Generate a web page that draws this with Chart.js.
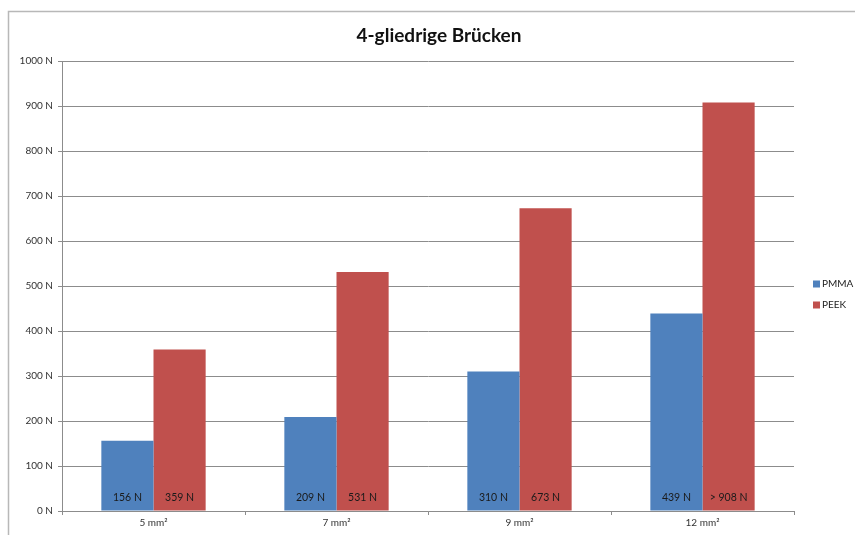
<!DOCTYPE html>
<html>
<head>
<meta charset="utf-8">
<script src="https://cdn.jsdelivr.net/npm/chart.js@4.4.1/dist/chart.umd.min.js"></script>
<style>
  html, body { margin: 0; padding: 0; background: #fff; }
  #wrap { width: 855px; height: 535px; position: relative; }
</style>
</head>
<body>
<div id="wrap"><canvas id="c" width="855" height="535"></canvas></div>
<script>
// Bruchlast je Verbinderquerschnitt
const titleText = '4-gliedrige Brücken';
const categories = ['5 mm²', '7 mm²', '9 mm²', '12 mm²'];
const pmmaValues = [156, 209, 310, 439];
const peekValues = [359, 531, 673, 908];
const peekPrefix = ['', '', '', '> '];
const seriesNames = ['PMMA', 'PEEK'];
const yTicksMax = 1000;
const yTicksStep = 100;

const FONT = 'Lato, "Open Sans", sans-serif';
const BLUE = '#4F81BD';
const RED = '#C0504D';

// Frame, title, value labels and legend
const decor = {
  id: 'decor',
  beforeDraw(chart) {
    const ctx = chart.ctx;
    ctx.save();
    ctx.fillStyle = '#fff';
    ctx.fillRect(0, 0, chart.width, chart.height);
    ctx.strokeStyle = '#b8b8b8';
    ctx.lineWidth = 1.5;
    ctx.beginPath();
    ctx.moveTo(8.5, chart.height + 5);
    ctx.lineTo(8.5, 11.5);
    ctx.lineTo(chart.width + 5, 11.5);
    ctx.stroke();
    ctx.restore();
  },
  afterDatasetsDraw(chart) {
    const ctx = chart.ctx;
    ctx.save();
    // title
    ctx.fillStyle = '#111';
    ctx.font = 'bold 19px ' + FONT;
    ctx.textAlign = 'center';
    ctx.textBaseline = 'alphabetic';
    ctx.fillText(titleText, 439, 42);

    // value labels at the bottom of each bar
    ctx.font = '10.5px ' + FONT;
    ctx.textBaseline = 'middle';
    const yBase = chart.scales.y.getPixelForValue(0);
    chart.data.datasets.forEach((ds, di) => {
      const meta = chart.getDatasetMeta(di);
      meta.data.forEach((bar, i) => {
        const prefix = di === 1 ? peekPrefix[i] : '';
        ctx.fillStyle = '#1a1a1a';
        ctx.fillText(prefix + ds.data[i] + ' N', bar.x, yBase - 13);
      });
    });

    // legend
    const items = [[seriesNames[0], BLUE, 284], [seriesNames[1], RED, 305]];
    ctx.textAlign = 'left';
    ctx.font = '10px ' + FONT;
    items.forEach(([name, col, y]) => {
      ctx.fillStyle = col;
      ctx.fillRect(813, y - 3.5, 7, 7);
      ctx.fillStyle = '#222';
      ctx.fillText(name, 822, y);
    });
    ctx.restore();
  }
};

new Chart(document.getElementById('c'), {
  type: 'bar',
  data: {
    labels: categories,
    datasets: [
      { label: seriesNames[0], data: pmmaValues, backgroundColor: BLUE, borderWidth: 0 },
      { label: seriesNames[1], data: peekValues, backgroundColor: RED, borderWidth: 0 }
    ]
  },
  options: {
    responsive: false,
    animation: false,
    events: [],
    layout: { padding: { left: 8, right: 61, top: 61, bottom: 0 } },
    plugins: {
      legend: { display: false },
      title: { display: false },
      tooltip: { enabled: false }
    },
    datasets: {
      bar: { categoryPercentage: 0.57, barPercentage: 1.0 }
    },
    scales: {
      x: {
        afterFit(s) { s.height = 24; },
        grid: {
          offset: true,
          drawOnChartArea: false,
          drawTicks: true,
          tickLength: 4,
          color: '#8c8c8c'
        },
        border: { color: '#8c8c8c', width: 1 },
        ticks: {
          color: '#333',
          font: { family: FONT, size: 10 },
          padding: 2,
          maxRotation: 0
        }
      },
      y: {
        min: 0,
        max: yTicksMax,
        afterFit(s) { s.width = 54; },
        grid: {
          color: '#8c8c8c',
          lineWidth: 1,
          drawTicks: true,
          tickLength: 4
        },
        border: { color: '#8c8c8c', width: 1 },
        ticks: {
          stepSize: yTicksStep,
          color: '#333',
          font: { family: FONT, size: 10 },
          padding: 5,
          callback: v => v + ' N'
        }
      }
    }
  },
  plugins: [decor]
});
</script>
</body>
</html>
